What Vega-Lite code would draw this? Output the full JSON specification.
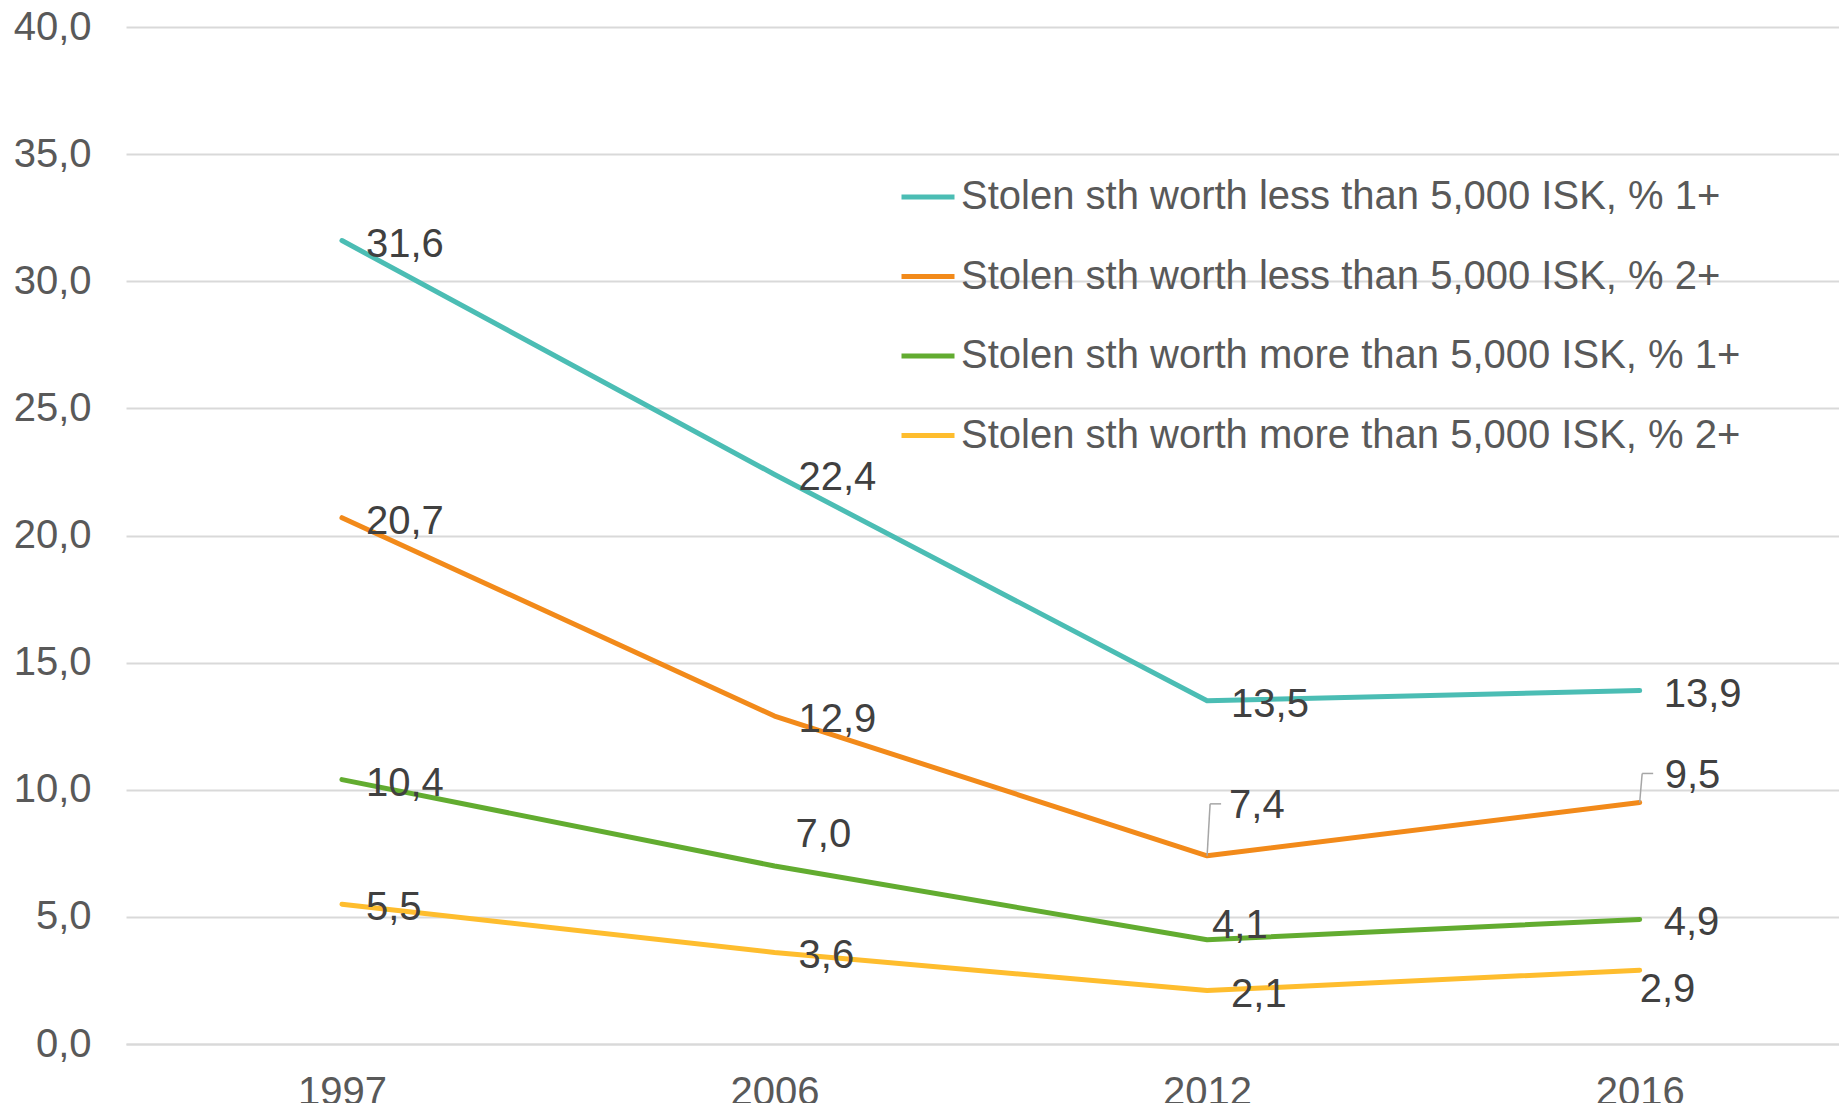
{
  "$schema": "https://vega.github.io/schema/vega-lite/v6.json",
  "width": 1713,
  "height": 1017,
  "autosize": {"type": "none"},
  "padding": {"left": 126, "top": 27, "right": 0, "bottom": 59},
  "background": "white",
  "config": {
    "locale": {"number": {"decimal": ",", "thousands": ".", "grouping": [3], "currency": ["", ""]}},
    "view": {"stroke": null},
    "font": "Liberation Sans, Arial"
  },
  "data": {
    "values": [
      {"series": "Stolen sth worth less than 5,000 ISK, % 1+", "year": "1997", "value": 31.6},
      {"series": "Stolen sth worth less than 5,000 ISK, % 1+", "year": "2006", "value": 22.4},
      {"series": "Stolen sth worth less than 5,000 ISK, % 1+", "year": "2012", "value": 13.5},
      {"series": "Stolen sth worth less than 5,000 ISK, % 1+", "year": "2016", "value": 13.9},
      {"series": "Stolen sth worth less than 5,000 ISK, % 2+", "year": "1997", "value": 20.7},
      {"series": "Stolen sth worth less than 5,000 ISK, % 2+", "year": "2006", "value": 12.9},
      {"series": "Stolen sth worth less than 5,000 ISK, % 2+", "year": "2012", "value": 7.4},
      {"series": "Stolen sth worth less than 5,000 ISK, % 2+", "year": "2016", "value": 9.5},
      {"series": "Stolen sth worth more than 5,000 ISK, % 1+", "year": "1997", "value": 10.4},
      {"series": "Stolen sth worth more than 5,000 ISK, % 1+", "year": "2006", "value": 7.0},
      {"series": "Stolen sth worth more than 5,000 ISK, % 1+", "year": "2012", "value": 4.1},
      {"series": "Stolen sth worth more than 5,000 ISK, % 1+", "year": "2016", "value": 4.9},
      {"series": "Stolen sth worth more than 5,000 ISK, % 2+", "year": "1997", "value": 5.5},
      {"series": "Stolen sth worth more than 5,000 ISK, % 2+", "year": "2006", "value": 3.6},
      {"series": "Stolen sth worth more than 5,000 ISK, % 2+", "year": "2012", "value": 2.1},
      {"series": "Stolen sth worth more than 5,000 ISK, % 2+", "year": "2016", "value": 2.9}
    ]
  },
  "encoding": {
    "x": {
      "field": "year", "type": "ordinal",
      "scale": {"type": "point", "padding": 0.48, "align": 0.52},
      "axis": {"title": null, "labelAngle": 0, "labelFontSize": 40, "labelColor": "#595959", "domainColor": "#d9d9d9", "domainWidth": 2, "ticks": false, "labelPadding": 28, "grid": false}
    },
    "y": {
      "field": "value", "type": "quantitative",
      "scale": {"domain": [0, 40], "nice": false},
      "axis": {"title": null, "values": [0, 5, 10, 15, 20, 25, 30, 35, 40], "format": ".1f", "labelFontSize": 40, "labelColor": "#595959", "domain": false, "ticks": false, "gridColor": "#d9d9d9", "gridWidth": 2, "labelPadding": 35}
    }
  },
  "layer": [
    {
      "mark": {"type": "line", "strokeWidth": 5, "strokeCap": "round", "strokeJoin": "round"},
      "encoding": {
        "color": {
          "field": "series", "type": "nominal",
          "scale": {
            "domain": ["Stolen sth worth less than 5,000 ISK, % 1+", "Stolen sth worth less than 5,000 ISK, % 2+", "Stolen sth worth more than 5,000 ISK, % 1+", "Stolen sth worth more than 5,000 ISK, % 2+"],
            "range": ["#4BBDB4", "#F28A1A", "#62AC30", "#FEBD2E"]
          },
          "legend": {"orient": "none", "legendX": 773, "legendY": 141, "title": null, "symbolType": "stroke", "symbolSize": 2809, "symbolStrokeWidth": 5, "labelFontSize": 40, "labelColor": "#595959", "labelLimit": 0, "rowPadding": 30.5, "labelOffset": 4, "padding": 0}
        }
      }
    },
    {
      "transform": [{"filter": "datum.value != 7.4 && datum.value != 9.5 && datum.value != 7.0 && datum.value != 4.1 && datum.value != 2.9"}],
      "mark": {"type": "text", "align": "left", "baseline": "middle", "dx": 24, "dy": 4, "fontSize": 40, "color": "#404040"},
      "encoding": {"text": {"field": "value", "type": "quantitative", "format": ".1f"}}
    },
    {
      "transform": [{"filter": "datum.value == 7.4"}],
      "mark": {"type": "text", "align": "left", "baseline": "middle", "dx": 22, "dy": -50, "fontSize": 40, "color": "#404040"},
      "encoding": {"text": {"field": "value", "type": "quantitative", "format": ".1f"}}
    },
    {
      "transform": [{"filter": "datum.value == 9.5"}],
      "mark": {"type": "text", "align": "left", "baseline": "middle", "dx": 25, "dy": -26, "fontSize": 40, "color": "#404040"},
      "encoding": {"text": {"field": "value", "type": "quantitative", "format": ".1f"}}
    },
    {
      "transform": [{"filter": "datum.value == 7.0"}],
      "mark": {"type": "text", "align": "left", "baseline": "middle", "dx": 21, "dy": -31, "fontSize": 40, "color": "#404040"},
      "encoding": {"text": {"field": "value", "type": "quantitative", "format": ".1f"}}
    },
    {
      "transform": [{"filter": "datum.value == 4.1"}],
      "mark": {"type": "text", "align": "left", "baseline": "middle", "dx": 5, "dy": -14, "fontSize": 40, "color": "#404040"},
      "encoding": {"text": {"field": "value", "type": "quantitative", "format": ".1f"}}
    },
    {
      "transform": [{"filter": "datum.value == 2.9"}],
      "mark": {"type": "text", "align": "left", "baseline": "middle", "dx": 0, "dy": 20, "fontSize": 40, "color": "#404040"},
      "encoding": {"text": {"field": "value", "type": "quantitative", "format": ".1f"}}
    },
    {
      "transform": [{"filter": "datum.value == 7.4"}],
      "mark": {"type": "rule", "color": "#a6a6a6", "strokeWidth": 1.5, "x2Offset": 3, "y2Offset": -52},
      "encoding": {"x2": {"field": "year"}, "y2": {"field": "value"}}
    },
    {
      "transform": [{"filter": "datum.value == 7.4"}],
      "mark": {"type": "rule", "color": "#a6a6a6", "strokeWidth": 1.5, "xOffset": 3, "x2Offset": 14, "yOffset": -52, "y2Offset": -52},
      "encoding": {"x2": {"field": "year"}, "y2": {"field": "value"}}
    },
    {
      "transform": [{"filter": "datum.value == 9.5"}],
      "mark": {"type": "rule", "color": "#a6a6a6", "strokeWidth": 1.5, "x2Offset": 2.5, "y2Offset": -29},
      "encoding": {"x2": {"field": "year"}, "y2": {"field": "value"}}
    },
    {
      "transform": [{"filter": "datum.value == 9.5"}],
      "mark": {"type": "rule", "color": "#a6a6a6", "strokeWidth": 1.5, "xOffset": 2.5, "x2Offset": 13.5, "yOffset": -29, "y2Offset": -29},
      "encoding": {"x2": {"field": "year"}, "y2": {"field": "value"}}
    }
  ]
}
